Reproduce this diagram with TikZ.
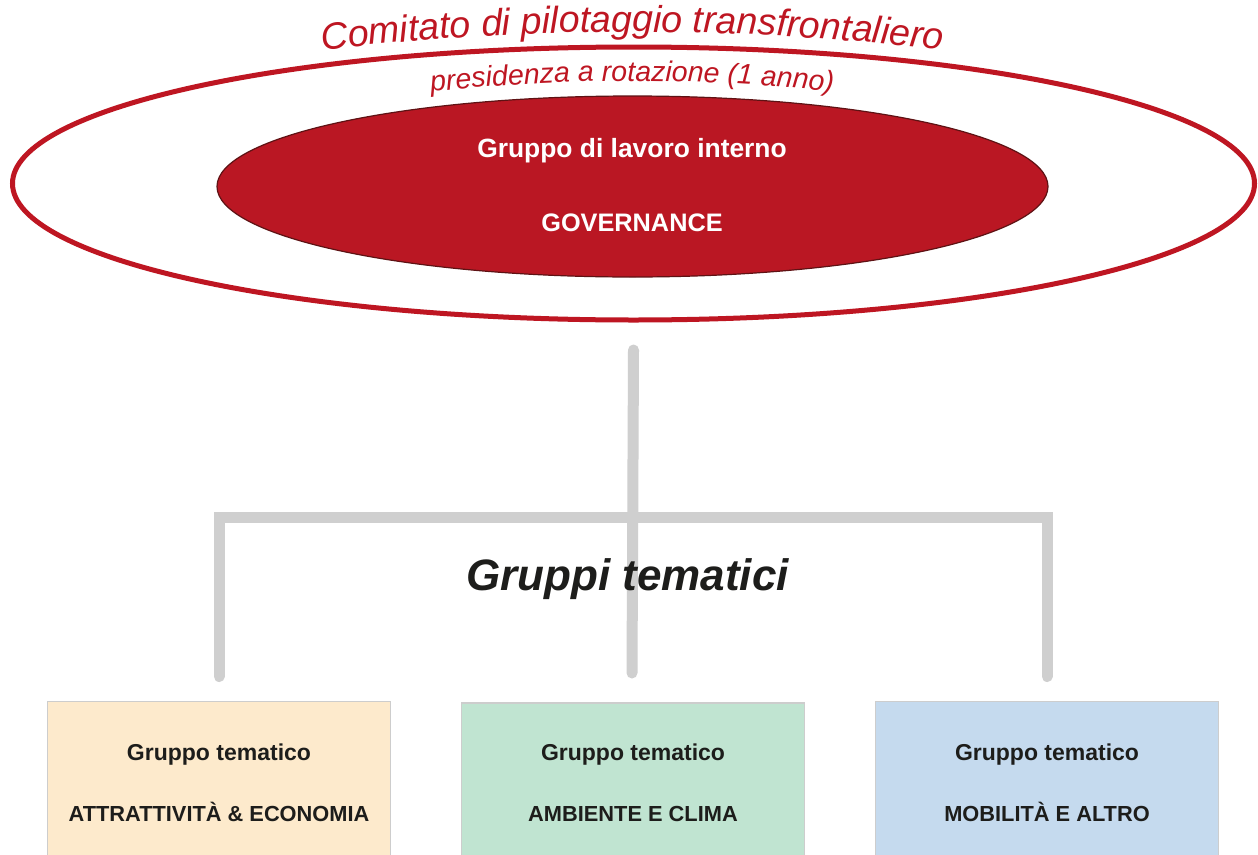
\documentclass[tikz,border=0pt]{standalone}
\usepackage{fontspec}
\setmainfont{Liberation Sans}
\usetikzlibrary{shapes.geometric,decorations.text}
\definecolor{cred}{HTML}{BE1622}
\definecolor{innerred}{HTML}{BA1723}
\definecolor{innerdark}{HTML}{5E1214}
\definecolor{linegray}{HTML}{CFCFCF}
\definecolor{boxborder}{HTML}{CDCDCD}
\definecolor{fillA}{HTML}{FDEACC}
\definecolor{fillB}{HTML}{C0E4D1}
\definecolor{fillC}{HTML}{C5DAEE}
\definecolor{darktext}{HTML}{1D1D1B}
\begin{document}
\begin{tikzpicture}[x=1pt,y=-1pt,
  whitetext/.style={text=white, inner sep=0pt, anchor=base},
  boxtext/.style={text=darktext, inner sep=0pt, anchor=base, font=\bfseries},
  themebox/.style={draw=boxborder, line width=1.5pt, minimum width=343pt, minimum height=170pt, inner sep=0pt, anchor=north},
  conn/.style={draw=linegray, line width=11pt, line cap=round, line join=miter}
]
\useasboundingbox (0,0) rectangle (1258,854);
\fill[white] (0,0) rectangle (1258,854);

% outer ellipse
\node[ellipse, draw=cred, line width=5pt, minimum width=1242pt, minimum height=273pt, inner sep=0pt] (comitato) at (633.5,183.5) {};
% inner ellipse
\node[ellipse, draw=innerdark, line width=1.2pt, fill=innerred, minimum width=831pt, minimum height=181pt, inner sep=0pt] (governance) at (632.5,186.5) {};
\node[whitetext, font=\bfseries\fontsize{26.4}{29}\selectfont] (gl1) at (632,157) {Gruppo di lavoro interno};
\node[whitetext, font=\bfseries\fontsize{25.3}{28}\selectfont] (gl2) at (632,231) {GOVERNANCE};

% curved titles
\path[decorate, decoration={text along path, text align=center, text color=cred,
  text={|\fontsize{37.5}{40}\selectfont\itshape|Comitato di pilotaggio transfrontaliero}}]
  (290,54) .. controls (518,24.6) and (746,24.6) .. (974,54);
\path[decorate, decoration={text along path, text align=center, text color=cred,
  text={|\fontsize{28.5}{31}\selectfont\itshape|presidenza a rotazione (1 anno)}}]
  (400,95.5) .. controls (554.7,76.2) and (709.3,76.2) .. (864,95.5);

% boxes
\node[themebox, fill=fillA] (b1) at (219,700.5) {};
\node[themebox, fill=fillB] (b2) at (633,702) {};
\node[themebox, fill=fillC] (b3) at (1047,700.5) {};

\node[boxtext, font=\bfseries\fontsize{23}{26}\selectfont] (t1a) at (219,760) {Gruppo tematico};
\node[boxtext, font=\bfseries\fontsize{21.8}{24}\selectfont] (t1b) at (219,821.5) {ATTRATTIVITÀ \& ECONOMIA};
\node[boxtext, font=\bfseries\fontsize{23}{26}\selectfont] (t2a) at (633,760) {Gruppo tematico};
\node[boxtext, font=\bfseries\fontsize{21.8}{24}\selectfont] (t2b) at (633,821.5) {AMBIENTE E CLIMA};
\node[boxtext, font=\bfseries\fontsize{23}{26}\selectfont] (t3a) at (1047,760) {Gruppo tematico};
\node[boxtext, font=\bfseries\fontsize{21.8}{24}\selectfont] (t3b) at (1047,821.5) {MOBILITÀ E ALTRO};

% connectors
\coordinate (hbar) at (632,517);
\draw[conn] ([yshift=-27.5pt]comitato.south) -- ([xshift=-1pt,yshift=29pt]b2.north);
\draw[conn] ([yshift=24pt]b1.north) -- (b1.north |- hbar) -- (b3.north |- hbar) -- ([yshift=24pt]b3.north);

\node[text=darktext, inner sep=0pt, anchor=base, font=\bfseries\itshape\fontsize{44}{47}\selectfont] (gt) at (627.5,590) {Gruppi tematici};
\end{tikzpicture}
\end{document}
